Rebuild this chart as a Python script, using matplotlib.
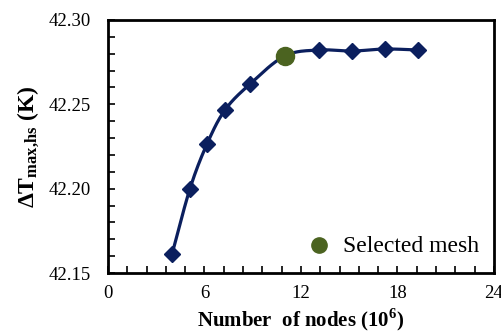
import numpy as np
import matplotlib.pyplot as plt
from matplotlib.ticker import MultipleLocator

plt.rcParams['font.family'] = ['Liberation Serif', 'DejaVu Serif']
plt.rcParams['mathtext.fontset'] = 'custom'
plt.rcParams['mathtext.rm'] = 'Liberation Serif'
plt.rcParams['mathtext.bf'] = 'Liberation Serif:bold'

# data
nodes = [3.98, 5.1, 6.16, 7.28, 8.83, 11.0, 13.1, 15.2, 17.2, 19.3]
dT = [42.161, 42.200, 42.2265, 42.2467, 42.262, 42.2787, 42.2822, 42.2816, 42.2828, 42.2822]
sel_idx = 5

navy = '#0b1f5e'
green = '#4b6320'


def smooth(x, y, n=20):
    # Catmull-Rom style smoothing like a spreadsheet "smoothed line"
    x = np.asarray(x); y = np.asarray(y)
    px = np.concatenate([[2 * x[0] - x[1]], x, [2 * x[-1] - x[-2]]])
    py = np.concatenate([[2 * y[0] - y[1]], y, [2 * y[-1] - y[-2]]])
    xs, ys = [], []
    t = np.linspace(0, 1, n)
    for i in range(1, len(px) - 2):
        for p, out in ((px, xs), (py, ys)):
            p0, p1, p2, p3 = p[i - 1], p[i], p[i + 1], p[i + 2]
            out.extend(0.5 * (2 * p1 + (-p0 + p2) * t
                              + (2 * p0 - 5 * p1 + 4 * p2 - p3) * t ** 2
                              + (-p0 + 3 * p1 - 3 * p2 + p3) * t ** 3))
    return xs, ys


fig = plt.figure(figsize=(5.02, 3.36), dpi=100)
ax = fig.add_axes([0.215, 0.1875, 0.769, 0.753])

sx, sy = smooth(nodes, dT)
ax.plot(sx, sy, color=navy, lw=2.3, zorder=2)
others = [i for i in range(len(nodes)) if i != sel_idx]
ax.plot([nodes[i] for i in others], [dT[i] for i in others], 'D', color=navy,
        ms=8, zorder=3)
ax.plot(nodes[sel_idx], dT[sel_idx], 'o', color=green, ms=13, zorder=4)

# legend entry drawn as in the original
ax.plot(13.1, 42.1665, 'o', color=green, ms=11, clip_on=False)
ax.text(14.6, 42.1655, 'Selected mesh', fontsize=17, va='center')

ax.set_xlim(0, 24)
ax.set_ylim(42.15, 42.30)
ax.xaxis.set_major_locator(MultipleLocator(6))
ax.xaxis.set_minor_locator(MultipleLocator(1.2))
ax.yaxis.set_major_locator(MultipleLocator(0.05))
ax.yaxis.set_minor_locator(MultipleLocator(0.01))
ax.yaxis.set_major_formatter(lambda v, p: f'{v:.2f}')
ax.tick_params(which='both', direction='in', top=False, right=False, width=1.2,
               labelsize=13.5)
ax.tick_params(axis='y', pad=12)
ax.tick_params(axis='x', pad=9)
ax.tick_params(which='major', length=5)
ax.tick_params(which='minor', length=5)
for s in ax.spines.values():
    s.set_linewidth(2)

ax.set_xlabel('Number  of nodes (10$^{\\mathbf{6}}$)', fontsize=15, fontweight='bold', labelpad=3)
ax.set_ylabel('$\\mathbf{\\Delta T_{max{,}hs}}$ (K)', fontsize=17, fontweight='bold', labelpad=6)

fig.savefig('out.png', dpi=100)
